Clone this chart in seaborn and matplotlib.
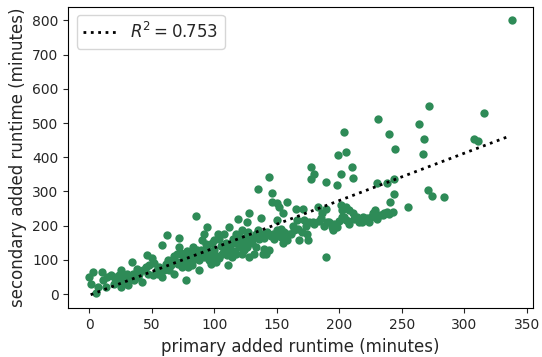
import numpy as np
import pandas as pd
import matplotlib
matplotlib.use("Agg")
import matplotlib.pyplot as plt
import seaborn as sns

# primary / secondary added runtime (minutes)
primary = [
    0, 1, 3, 5, 10, 11, 14, 17, 7, 13, 20,
    25, 25, 31, 34, 35, 38, 42, 45, 46, 50, 51, 47, 39, 28, 21,
    58, 58, 62, 56, 61, 67, 68, 72, 72, 70, 75, 77, 79, 83, 83, 88, 85, 78, 74, 64, 54, 71,
    92, 94, 90, 94, 97, 100, 101, 103, 107, 106, 97, 92, 89, 86, 110, 111, 108, 99, 104,
    112, 117, 119, 122, 125, 128, 126, 120, 122, 128, 126, 130, 133, 135, 137, 139, 124, 117, 114, 132, 139, 140,
    135, 144, 146, 146, 150, 152, 158, 155, 150, 147, 150, 154, 155, 158, 144, 141, 164, 165, 166, 168, 161, 153,
    171, 172, 174, 175, 177, 177, 180, 179, 183, 185, 186, 189, 189, 189, 190, 194, 195, 198, 198, 199,
    201, 204, 205, 210, 211, 201, 202, 205, 208, 211, 205, 208, 214, 216, 219, 224, 227, 229, 233, 236, 238, 202,
    231, 230, 238, 240, 244, 245, 244, 241, 222,
    255, 264, 268, 267, 272, 271, 274, 284, 308, 311, 316, 338,
    20, 22, 24, 27, 30, 32, 36, 40, 43, 48, 52, 55, 60, 63, 65, 68, 70, 73, 76, 78,
    80, 82, 84, 86, 88, 90, 93, 95, 96, 98, 100, 102, 104, 105, 107, 109, 111, 113, 115, 116,
    118, 120, 121, 123, 125, 127, 129, 131, 133, 136, 138, 140, 142, 145, 148, 150, 153, 156, 160, 163,
    167, 170, 173, 176, 180, 184, 188, 192, 196, 200, 204, 207, 212, 218, 225, 230, 235, 240, 243,
]
secondary = [
    50, 30, 65, 4, 65, 40, 50, 55, 20, 20, 50,
    69, 22, 25, 94, 60, 74, 35, 79, 113, 104, 55, 60, 50, 50, 45,
    50, 144, 173, 79, 89, 99, 60, 165, 138, 118, 109, 40, 79, 138, 99, 69, 228, 99, 79, 69, 69, 89,
    177, 197, 157, 138, 118, 157, 94, 177, 138, 118, 89, 109, 128, 109, 113, 84, 177, 109, 104,
    197, 177, 219, 187, 167, 236, 211, 138, 118, 109, 138, 148, 138, 187, 222, 177, 128, 118, 109, 118, 118, 133,
    308, 343, 296, 270, 265, 255, 270, 236, 216, 177, 187, 177, 148, 157, 128, 118, 187, 250, 216, 157, 177, 167,
    250, 216, 177, 157, 373, 336, 352, 211, 255, 221, 236, 250, 329, 107, 211, 197, 187, 197, 318, 406,
    352, 474, 416, 371, 340, 260, 245, 255, 245, 236, 216, 206, 226, 211, 226, 211, 236, 245, 231, 236, 241, 226,
    512, 326, 326, 467, 335, 423, 294, 268, 221,
    255, 497, 454, 410, 549, 304, 288, 284, 453, 447, 529, 800,
    30, 40, 55, 35, 60, 45, 40, 60, 70, 85, 90, 60, 70, 100, 85, 110, 95, 120, 90, 125,
    110, 85, 120, 130, 100, 115, 145, 125, 100, 150, 130, 110, 160, 140, 120, 150, 130, 145, 160, 125,
    150, 170, 140, 155, 145, 180, 160, 165, 175, 160, 170, 165, 180, 170, 160, 175, 190, 180, 175, 200,
    190, 180, 200, 210, 205, 215, 200, 210, 205, 215, 225, 215, 220, 210, 225, 220, 230, 235, 240,
]

# dotted trend line
line_slope = 1.384
line_intercept = -3.4
r2_label = "0.753"

df = pd.DataFrame({"primary": primary, "secondary": secondary})

sns.set_style("ticks")
plt.rcParams["font.family"] = ["DejaVu Sans"]

fig = plt.figure(figsize=(5.42, 3.57), dpi=100)
ax = fig.add_axes([0.126, 0.136, 0.857, 0.845])

sns.scatterplot(data=df, x="primary", y="secondary", color="seagreen",
                s=36, linewidth=0, ax=ax, zorder=2)

xs = np.array([df["primary"].min() + 1, df["primary"].max() - 1], dtype=float)
ax.plot(xs, line_slope * xs + line_intercept, "k:", lw=2,
        label=r"$R^2 = $" + r"$" + r2_label + r"$", zorder=3)

ax.set_xlabel("primary added runtime (minutes)", fontsize=12)
ax.set_ylabel("secondary added runtime (minutes)", fontsize=12)
ax.tick_params(labelsize=10, direction="out", length=3.5, width=0.8)
for s in ax.spines.values():
    s.set_visible(True)
    s.set_linewidth(0.8)
    s.set_color("black")
ax.set_xticks([0, 50, 100, 150, 200, 250, 300, 350])
ax.set_yticks([0, 100, 200, 300, 400, 500, 600, 700, 800])
ax.margins(0.05)
ax.legend(loc="upper left", fontsize=12, frameon=True)

fig.savefig("out.png", dpi=100)
